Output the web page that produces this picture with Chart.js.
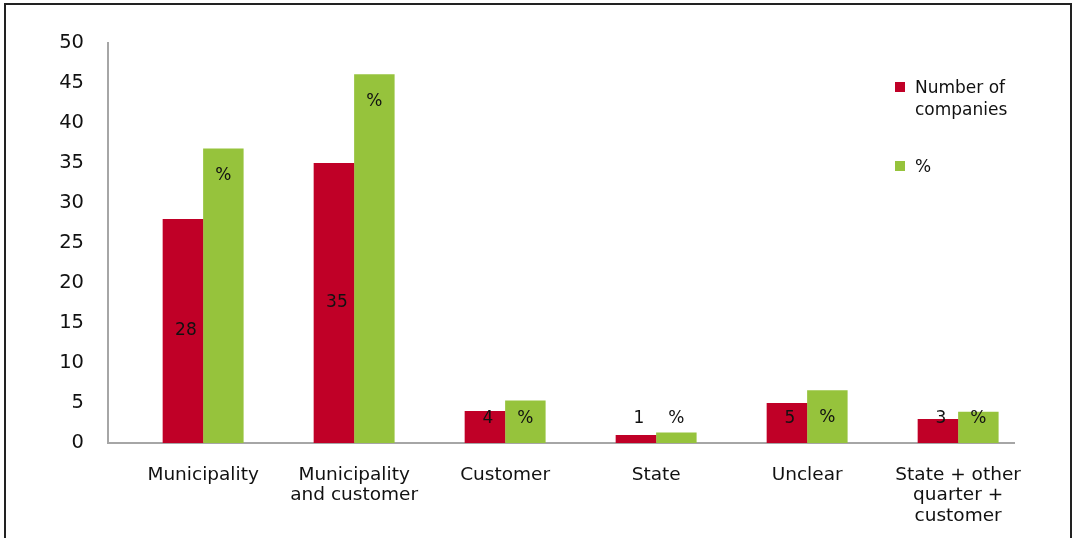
<!DOCTYPE html>
<html>
<head>
<meta charset="utf-8">
<script src="https://cdn.jsdelivr.net/npm/chart.js@4/dist/chart.umd.min.js"></script>
<style>
  html, body { margin: 0; padding: 0; background: #fff; }
  #wrap { position: relative; width: 1074px; height: 538px; overflow: hidden; font-family: "DejaVu Sans", sans-serif; }
  #frame { position: absolute; left: 4px; top: 3px; width: 1064px; height: 600px; border: 2px solid #222; }
  #chart { position: absolute; left: 0; top: 0; }
  .leg { position: absolute; left: 895px; font-size: 17px; color: #111; line-height: 22px; }
  .leg i { position: absolute; left: 0; width: 10px; height: 10px; }
  .leg span { position: absolute; left: 20px; white-space: nowrap; }
</style>
</head>
<body>
<div id="wrap">
  <div id="frame"></div>
  <canvas id="chart" width="1074" height="538"></canvas>
  <div class="leg" style="top:82px"><i style="background:#c00027"></i><span style="top:-6px">Number of<br>companies</span></div>
  <div class="leg" style="top:161px"><i style="background:#96c33c"></i><span style="top:-6px">%</span></div>
</div>
<script>
// categories and values
const categories = [
  ["Municipality"],
  ["Municipality", "and customer"],
  ["Customer"],
  ["State"],
  ["Unclear"],
  ["State + other", "quarter +", "customer"]
];
const companies = [28, 35, 4, 1, 5, 3];
const percent = [36.8, 46.1, 5.3, 1.3, 6.6, 3.9];
const yTicks = [0, 5, 10, 15, 20, 25, 30, 35, 40, 45, 50];

const RED = "#c00027";
const GREEN = "#96c33c";
const AXIS = "#a6a6a6";
const FONT = "'DejaVu Sans', sans-serif";

// labels: counts shown as numbers, percent series labelled with "%"
const barLabels = {
  id: "barLabels",
  afterDatasetsDraw(chart) {
    const ctx = chart.ctx;
    const y = chart.scales.y;
    ctx.save();
    ctx.fillStyle = "#111";
    ctx.font = "17px " + FONT;
    ctx.textAlign = "center";
    ctx.textBaseline = "middle";
    chart.data.datasets.forEach(function (ds, di) {
      const meta = chart.getDatasetMeta(di);
      meta.data.forEach(function (bar, i) {
        const v = ds.data[i].y;
        var at, txt;
        if (di === 0) { at = Math.max(v / 2, 3.1); txt = String(v); }
        else { at = Math.max(v - 3.4, 3.1); txt = "%"; }
        ctx.fillText(txt, bar.x + (di === 0 ? 3 : 0), y.getPixelForValue(at));
      });
    });
    ctx.restore();
  }
};

new Chart(document.getElementById("chart"), {
  type: "bar",
  data: {
    datasets: [
      { label: "Number of companies", data: companies.map((v, i) => ({ x: i, y: v })), backgroundColor: RED },
      { label: "%", data: percent.map((v, i) => ({ x: i, y: v })), backgroundColor: GREEN }
    ]
  },
  options: {
    responsive: false,
    animation: false,
    devicePixelRatio: 1,
    layout: { padding: { left: 0, top: 43, right: 60, bottom: 0 } },
    datasets: { bar: { categoryPercentage: 0.536, barPercentage: 1 } },
    scales: {
      x: {
        type: "linear",
        offset: false,
        min: -0.63,
        max: 5.37,
        afterBuildTicks: s => { s.ticks = categories.map((c, i) => ({ value: i })); },
        afterFit: s => { s.height = 95; },
        grid: { display: false },
        border: { display: true, color: AXIS, width: 2 },
        ticks: {
          padding: 14,
          color: "#111",
          font: { family: FONT, size: 18.5, lineHeight: 1.1 },
          callback: v => categories[v]
        }
      },
      y: {
        min: 0,
        max: 50,
        afterBuildTicks: s => { s.ticks = yTicks.map(v => ({ value: v })); },
        afterFit: s => { s.width = 108; },
        grid: { display: false },
        border: { display: true, color: AXIS, width: 2 },
        ticks: {
          padding: 16,
          color: "#111",
          font: { family: FONT, size: 19.5 }
        }
      }
    },
    plugins: {
      legend: { display: false },
      tooltip: { enabled: false }
    }
  },
  plugins: [barLabels]
});
</script>
</body>
</html>
